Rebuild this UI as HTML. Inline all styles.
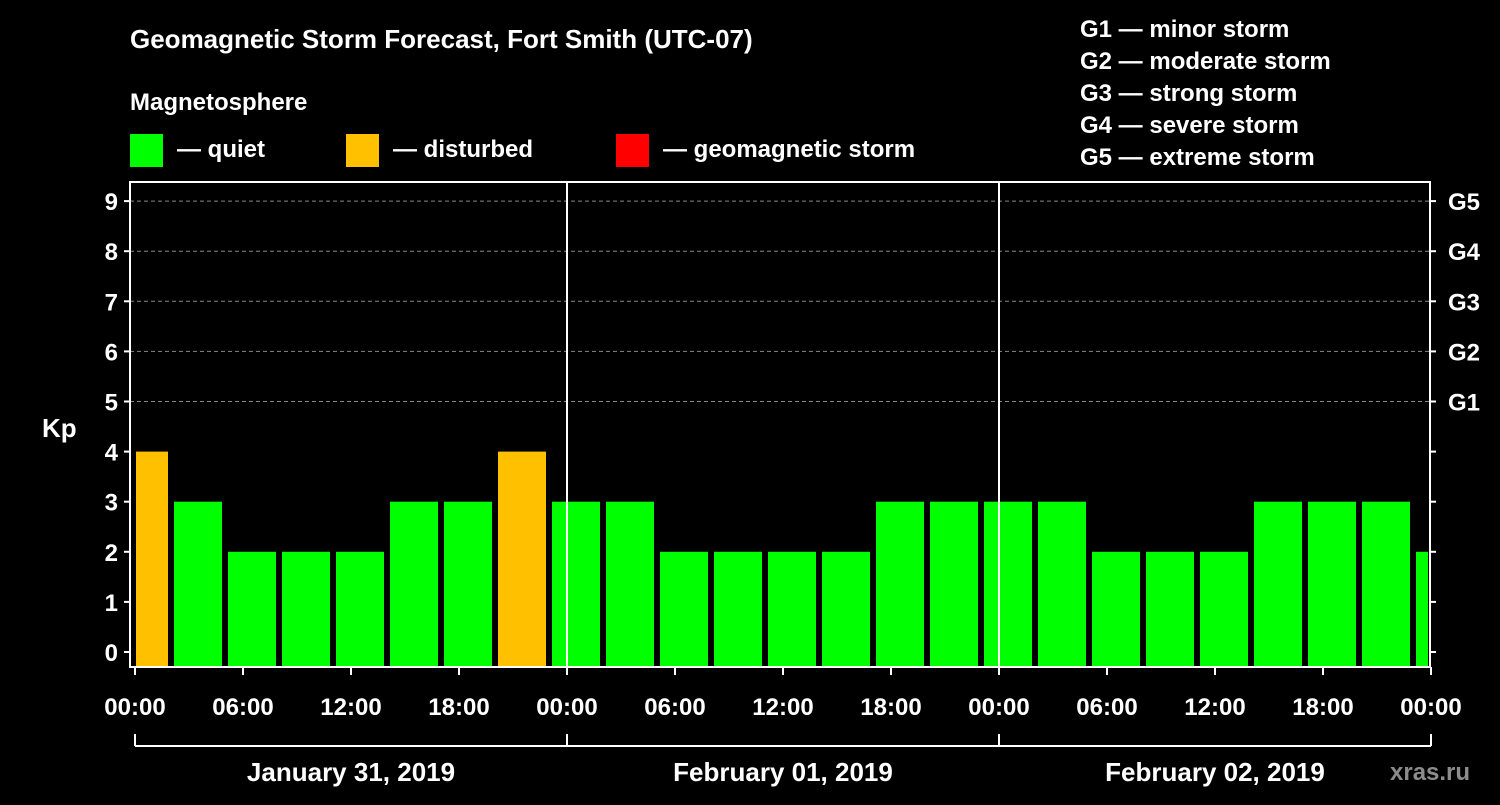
<!DOCTYPE html>
<html><head><meta charset="utf-8"><style>
body{margin:0;background:#000;width:1500px;height:800px;overflow:hidden}
svg text{font-family:"Liberation Sans",Arial,sans-serif;font-weight:bold;fill:#fff}
</style></head><body>
<svg id="chart" width="1500" height="800" xmlns="http://www.w3.org/2000/svg">
<rect width="1500" height="800" fill="#000"/>
<text x="130" y="48" font-size="26">Geomagnetic Storm Forecast, Fort Smith (UTC-07)</text>
<text x="130" y="110" font-size="24">Magnetosphere</text>
<g><rect x="130" y="134" width="33" height="33" fill="#00ff00"/><text x="177" y="157" font-size="24">— quiet</text></g>
<g><rect x="346" y="134" width="33" height="33" fill="#ffc000"/><text x="393" y="157" font-size="24">— disturbed</text></g>
<g><rect x="616" y="134" width="33" height="33" fill="#ff0000"/><text x="663" y="157" font-size="24">— geomagnetic storm</text></g>
<g font-size="24">
<text x="1080" y="37">G1 — minor storm</text>
<text x="1080" y="69">G2 — moderate storm</text>
<text x="1080" y="101">G3 — strong storm</text>
<text x="1080" y="133">G4 — severe storm</text>
<text x="1080" y="165">G5 — extreme storm</text>
</g>
<text x="42" y="437" font-size="26">Kp</text>
<text x="1390" y="780" font-size="24" fill="#888" style="fill:#8c8c8c">xras.ru</text>
<g id="grid"></g><g id="bars"></g><g id="axes"></g>
</svg>
<script>
const kpValues=[4,3,2,2,2,3,3,4,3,3,2,2,2,2,3,3,3,3,2,2,2,3,3,3,2];
const binStartHours=[-1,2,5,8,11,14,17,20,23,26,29,32,35,38,41,44,47,50,53,56,59,62,65,68,71];
const yTicks=[0,1,2,3,4,5,6,7,8,9];
const gLabels=["G1","G2","G3","G4","G5"];
const xTickLabels=["00:00","06:00","12:00","18:00","00:00","06:00","12:00","18:00","00:00","06:00","12:00","18:00","00:00"];
const dayLabels=["January 31, 2019","February 01, 2019","February 02, 2019"];
const NS="http://www.w3.org/2000/svg";
const L=130,R=1430,T=182,B=667,X0=135,HPX=18;
const y=v=>652-v*50.1;
const x=h=>X0+h*HPX;
function mk(p,tag,a){const e=document.createElementNS(NS,tag);for(const k in a)e.setAttribute(k,a[k]);p.appendChild(e);return e;}
const grid=document.getElementById('grid'),bars=document.getElementById('bars'),axes=document.getElementById('axes');
for(let v=5;v<=9;v++){const l=mk(grid,'line',{x1:L,x2:R,y1:y(v),y2:y(v),stroke:'#888','stroke-dasharray':'4,3','stroke-width':1});

}
kpValues.forEach((v,i)=>{const s=binStartHours[i];let x1=x(s)+3,x2=x(s+3)-3;x1=Math.max(x1,x(0)+1);x2=Math.min(x2,R-2);
const c=v>=5?'#ff0000':(v>=4?'#ffc000':'#00ff00');
const r=mk(bars,'rect',{x:x1,y:y(v),width:x2-x1,height:B-y(v),fill:c});

});
const frame=mk(axes,'rect',{x:L,y:T,width:R-L,height:B-T,fill:'none',stroke:'#fff','stroke-width':2});


[1,2].forEach(d=>{const l=mk(axes,'line',{x1:x(24*d),x2:x(24*d),y1:T,y2:B,stroke:'#fff','stroke-width':2});

});
yTicks.forEach(v=>{mk(axes,'line',{x1:L-6,x2:L,y1:y(v),y2:y(v),stroke:'#fff','stroke-width':2});
mk(axes,'line',{x1:R,x2:R+6,y1:y(v),y2:y(v),stroke:'#fff','stroke-width':2});
const t=mk(axes,'text',{x:L-12,y:y(v)+9,'font-size':24,'text-anchor':'end'});t.textContent=v;

});
gLabels.forEach((g,i)=>{const t=mk(axes,'text',{x:R+18,y:y(5+i)+9,'font-size':24});t.textContent=g;

});
xTickLabels.forEach((s,i)=>{const xx=x(6*i);mk(axes,'line',{x1:xx,x2:xx,y1:B,y2:B+8,stroke:'#fff','stroke-width':2});
const t=mk(axes,'text',{x:xx,y:715,'font-size':24,'text-anchor':'middle'});t.textContent=s;

});
mk(axes,'line',{x1:x(0),x2:x(72),y1:746,y2:746,stroke:'#fff','stroke-width':2});
[0,24,48,72].forEach(h=>mk(axes,'line',{x1:x(h),x2:x(h),y1:734,y2:746,stroke:'#fff','stroke-width':2}));
dayLabels.forEach((s,i)=>{const t=mk(axes,'text',{x:x(24*i+12),y:781,'font-size':26,'text-anchor':'middle'});t.textContent=s;

});
</script>
</body></html>
